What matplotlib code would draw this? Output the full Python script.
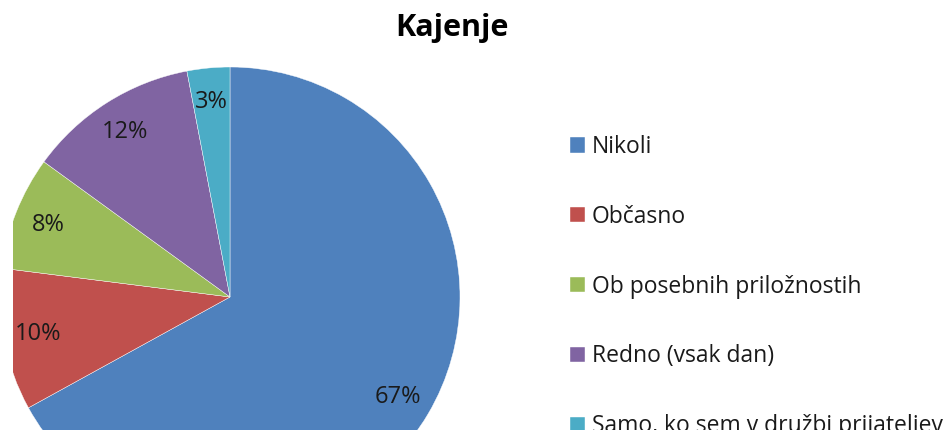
import matplotlib.pyplot as plt

# Kajenje (smoking) survey shares
labels = ['Nikoli', 'Občasno', 'Ob posebnih priložnostih', 'Redno (vsak dan)',
          'Samo, ko sem v družbi prijateljev']
values = [67, 10, 8, 12, 3]
colors = ['#4F81BD', '#C0504D', '#9BBB59', '#8064A2', '#4BACC6']

plt.rcParams['font.family'] = ['Open Sans', 'DejaVu Sans']

W, H = 951, 430
fig = plt.figure(figsize=(W / 100, H / 100), dpi=100)

# pie centre at (230, 297) px, radius 230 px, clipped left at x=13 and by the bottom edge
cx, cy, r = 230, 297, 230
left, right, top, bottom = 13, 460, 67, 430
ax = fig.add_axes([left / W, (H - bottom) / H, (right - left) / W, (bottom - top) / H])
wedges, texts, autotexts = ax.pie(
    values, colors=colors, startangle=90, counterclock=False,
    autopct='%1.0f%%', pctdistance=0.85,
    wedgeprops=dict(edgecolor='white', linewidth=0.3),
    textprops=dict(fontsize=17, color='#1a1a1a'))
ax.set_xlim((left - cx) / r, (right - cx) / r)
ax.set_ylim((cy - bottom) / r, (cy - top) / r)
ax.set_aspect('auto')
for w in wedges:
    w.set_clip_on(True)

fig.text(452 / W, 1 - 28 / H, 'Kajenje', ha='center', va='center',
         fontsize=22, fontweight='bold', color='black')

leg = fig.legend(wedges, labels, loc='upper left',
                 bbox_to_anchor=(570 / W, 1 - 135 / H), bbox_transform=fig.transFigure,
                 frameon=False, fontsize=16.5, handlelength=0.65, handleheight=0.65,
                 handletextpad=0.3, labelspacing=2.0, borderpad=0, borderaxespad=0)
for t in leg.get_texts():
    t.set_color('#1a1a1a')

fig.savefig('out.png', dpi=100)
